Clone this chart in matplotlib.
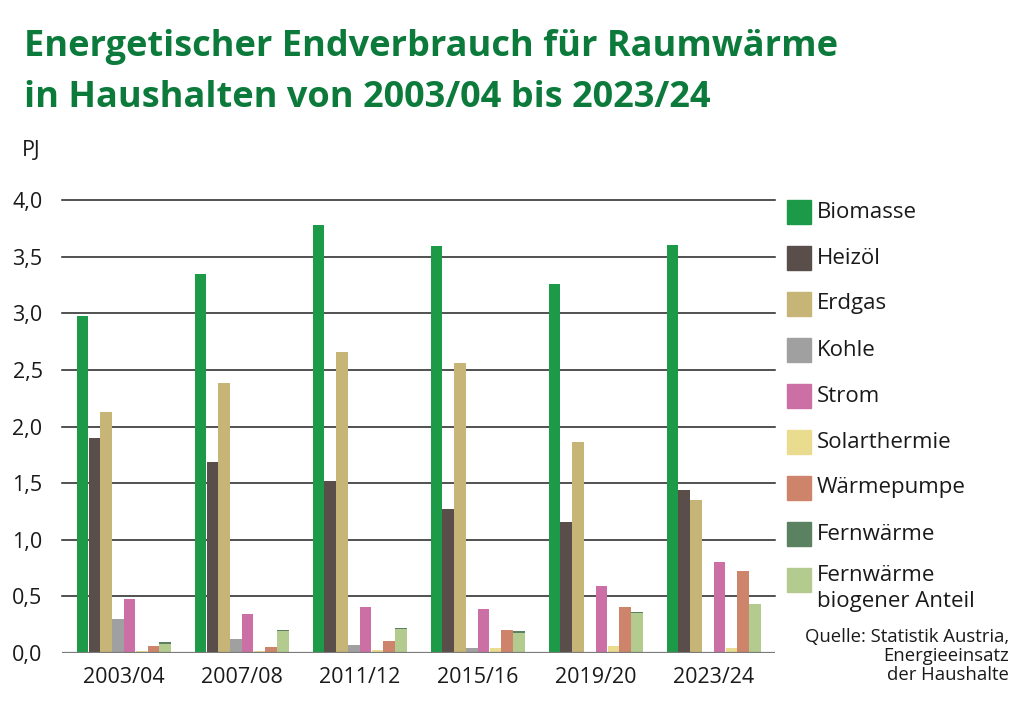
import matplotlib.pyplot as plt
import numpy as np
from matplotlib.patches import Rectangle

plt.rcParams['font.family'] = ['Open Sans', 'DejaVu Sans']

# Werte in PJ
years = ['2003/04', '2007/08', '2011/12', '2015/16', '2019/20', '2023/24']
biomasse = [2.98, 3.35, 3.78, 3.59, 3.26, 3.60]
heizoel = [1.90, 1.69, 1.52, 1.27, 1.16, 1.44]
erdgas = [2.13, 2.38, 2.66, 2.56, 1.86, 1.35]
kohle = [0.30, 0.12, 0.07, 0.04, 0.0, 0.0]
strom = [0.48, 0.34, 0.41, 0.39, 0.59, 0.80]
solar = [0.02, 0.02, 0.03, 0.04, 0.06, 0.04]
waermepumpe = [0.06, 0.05, 0.11, 0.20, 0.41, 0.72]
fernwaerme = [0.10, 0.20, 0.22, 0.19, 0.36, 0.43]
fw_biogen = [0.08, 0.19, 0.21, 0.18, 0.35, 0.43]

series = [biomasse, heizoel, erdgas, kohle, strom, solar, waermepumpe, fernwaerme]
names = ['Biomasse', 'Heizöl', 'Erdgas', 'Kohle', 'Strom', 'Solarthermie',
         'Wärmepumpe', 'Fernwärme', 'Fernwärme\nbiogener Anteil']
colors = ['#1c9a48', '#5a4e4a', '#c6b577', '#a0a0a0', '#cc6fa4', '#e9dc8f',
          '#ce846b', '#5a8260', '#b3cb8f']
yticks = [0, 0.5, 1.0, 1.5, 2.0, 2.5, 3.0, 3.5, 4.0]
ytick_labels = ['0,0', '0,5', '1,0', '1,5', '2,0', '2,5', '3,0', '3,5', '4,0']

W, H = 1033, 709
fig = plt.figure(figsize=(W / 100, H / 100), dpi=100)
ymax = 4.05
px_per_unit = 113.25
top_px = 653 - ymax * px_per_unit
ax = fig.add_axes([62 / W, 1 - 653 / H, (775 - 62) / W, (653 - top_px) / H])

x = np.arange(len(years))
bw = 0.1
for j, vals in enumerate(series):
    ax.bar(x + (j - 3.5) * bw, vals, width=bw * 0.98, color=colors[j], zorder=3)
# biogener Anteil liegt über der Fernwärme
ax.bar(x + 3.5 * bw, fw_biogen, width=bw * 0.98, color=colors[8], zorder=4)

for yv in yticks[1:]:
    ax.axhline(yv, color='#222222', lw=1.1, zorder=1, clip_on=False)
ax.axhline(0, color='#7a7a7a', lw=1.6, zorder=5)

ax.set_xlim(-0.524, 5.52)
ax.set_ylim(0, ymax)
ax.set_yticks(yticks)
ax.set_yticklabels(ytick_labels, fontsize=15.5, color='#1a1a1a')
ax.set_xticks(x)
ax.set_xticklabels(years, fontsize=15.5, color='#1a1a1a')
ax.tick_params(axis='both', length=0)
ax.tick_params(axis='y', pad=14)
ax.tick_params(axis='x', pad=10)
for s in ax.spines.values():
    s.set_visible(False)

fig.text(24 / W, 1 - 56 / H, 'Energetischer Endverbrauch für Raumwärme',
         fontsize=26, fontweight='bold', color='#0b7a3b', va='baseline', ha='left')
fig.text(24 / W, 1 - 107 / H, 'in Haushalten von 2003/04 bis 2023/24',
         fontsize=26, fontweight='bold', color='#0b7a3b', va='baseline', ha='left')
fig.text(22 / W, 1 - 151 / H, 'PJ', fontsize=15.5, color='#1a1a1a', va='center', ha='left')

# Legende
leg_y = [212, 258, 304, 350, 396, 442, 488, 534, 580]
for c, n, yy in zip(colors, names, leg_y):
    fig.patches.append(Rectangle((787 / W, 1 - (yy + 12) / H), 24 / W, 24 / H,
                                 transform=fig.transFigure, color=c))
    if '\n' in n:
        fig.text(817 / W, 1 - (yy - 15) / H, n, fontsize=16, color='#1a1a1a', va='top',
                 ha='left', linespacing=1.3)
    else:
        fig.text(817 / W, 1 - yy / H, n, fontsize=16, color='#1a1a1a', va='center', ha='left')

fig.text(1009 / W, 1 - 628 / H, 'Quelle: Statistik Austria,\nEnergieeinsatz\nder Haushalte',
         fontsize=13.3, color='#1a1a1a', va='top', ha='right', linespacing=1.08)

fig.savefig('out.png', dpi=100)
